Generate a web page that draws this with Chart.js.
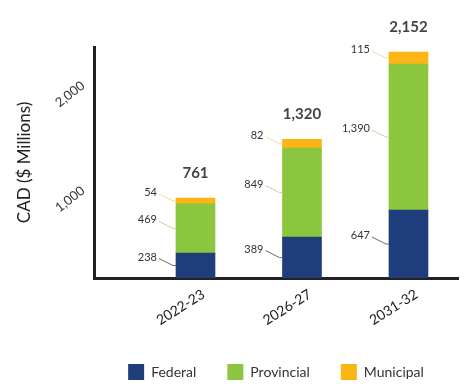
<!DOCTYPE html>
<html>
<head>
<meta charset="utf-8">
<script src="https://cdn.jsdelivr.net/npm/chart.js@4"></script>
<style>
  html, body { margin: 0; padding: 0; background: #fff; }
</style>
</head>
<body>
<canvas id="chart" width="471" height="390"></canvas>
<script>
const periods = ['2022-23', '2026-27', '2031-32'];
const federal = [238, 389, 647];
const provincial = [469, 849, 1390];
const municipal = [54, 82, 115];
const totals = [761, 1320, 2152];
const yTickValues = [1000, 2000];

const seriesColors = ['#1f3c7b', '#8cc63f', '#fbb515'];
const leaderColors = ['#6b6b6b', '#cfc9a4', '#f2dc9c'];

function toPoints(values) {
  return values.map((v, i) => ({ x: i + 1, y: v }));
}

const fmt = v => v.toLocaleString('en-US');

// labels on the left of each segment with a little leader line, plus the totals on top
const segmentLabels = {
  id: 'segmentLabels',
  afterDatasetsDraw(chart) {
    const ctx = chart.ctx;
    ctx.save();
    chart.data.datasets.forEach((ds, di) => {
      const meta = chart.getDatasetMeta(di);
      meta.data.forEach((bar, i) => {
        const left = bar.x - bar.width / 2;
        const mid = (bar.y + bar.base) / 2;
        ctx.strokeStyle = leaderColors[di];
        ctx.lineWidth = 1;
        ctx.beginPath();
        ctx.moveTo(left - 17, mid - 7);
        ctx.lineTo(left - 3, mid);
        ctx.lineTo(left, mid);
        ctx.stroke();
        ctx.fillStyle = '#333';
        ctx.font = '11px Lato';
        ctx.textAlign = 'right';
        ctx.textBaseline = 'middle';
        ctx.fillText(fmt(ds.data[i].y), left - 19, mid - 8.5);
      });
    });

    const topBars = chart.getDatasetMeta(chart.data.datasets.length - 1).data;
    topBars.forEach((bar, i) => {
      ctx.fillStyle = '#444';
      ctx.font = 'bold 15px Lato';
      ctx.textAlign = 'center';
      ctx.textBaseline = 'middle';
      ctx.fillText(fmt(totals[i]), bar.x, bar.y - 25);
    });
    ctx.restore();
  }
};

const ctx = document.getElementById('chart').getContext('2d');
new Chart(ctx, {
  type: 'bar',
  data: {
    datasets: [
      { label: 'Federal', data: toPoints(federal), backgroundColor: seriesColors[0] },
      { label: 'Provincial', data: toPoints(provincial), backgroundColor: seriesColors[1] },
      { label: 'Municipal', data: toPoints(municipal), backgroundColor: seriesColors[2] }
    ]
  },
  options: {
    responsive: false,
    animation: false,
    barThickness: 39,
    layout: {
      padding: { top: 47, right: 13, left: 14, bottom: 0 }
    },
    plugins: {
      tooltip: { enabled: false },
      legend: {
        position: 'bottom',
        fullSize: false,
        labels: {
          boxWidth: 16,
          boxHeight: 16,
          padding: 31,
          color: '#333',
          font: { family: 'Lato', size: 14 }
        }
      }
    },
    scales: {
      x: {
        type: 'linear',
        stacked: true,
        offset: false,
        min: 0.047,
        max: 3.465,
        grid: { display: false },
        border: { color: '#222', width: 3 },
        afterBuildTicks: scale => { scale.ticks = periods.map((p, i) => ({ value: i + 1 })); },
        afterFit: scale => { scale.height = 55; },
        ticks: {
          autoSkip: false,
          minRotation: 32,
          maxRotation: 32,
          labelOffset: 8,
          padding: 0,
          color: '#1a1a1a',
          font: { family: 'Lato', size: 14 },
          callback: v => periods[v - 1]
        }
      },
      y: {
        stacked: true,
        min: 0,
        max: 2200,
        grid: { display: false },
        border: { color: '#222', width: 3 },
        afterBuildTicks: scale => { scale.ticks = yTickValues.map(v => ({ value: v })); },
        afterFit: scale => { scale.width = 80; },
        ticks: {
          minRotation: 38,
          maxRotation: 38,
          labelOffset: 16,
          color: '#333',
          font: { family: 'Lato', size: 13 },
          callback: v => fmt(v)
        },
        title: {
          display: true,
          text: 'CAD ($ Millions)',
          color: '#222',
          font: { family: 'Lato', size: 17 },
          padding: { top: 0, bottom: 4 }
        }
      }
    }
  },
  plugins: [segmentLabels]
});
</script>
</body>
</html>
